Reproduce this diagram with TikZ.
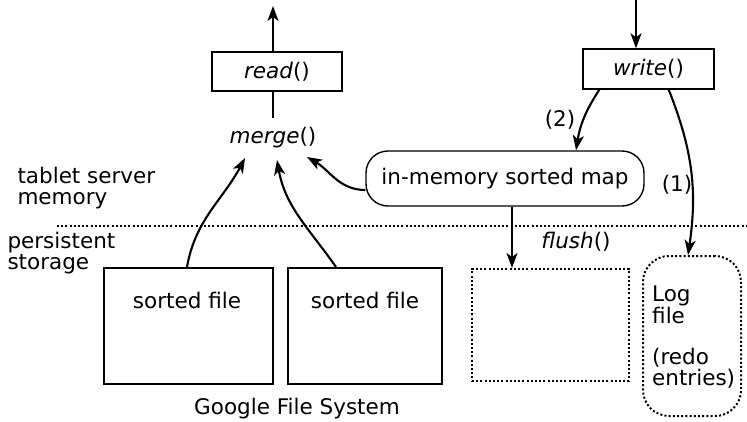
\documentclass[tikz,border=0pt]{standalone}
\usepackage{fontspec}
\setmainfont{DejaVu Sans}
\usetikzlibrary{arrows.meta}
\begin{document}
\begin{tikzpicture}[x=1pt,y=-1pt,
  every node/.style={font=\fontsize{21.5}{20.5}\selectfont},
  box/.style={draw,line width=1.4pt,inner sep=0pt},
  arr/.style={line width=2.1pt,-{Stealth[length=15pt,width=11pt,inset=4pt]}},
  plain/.style={line width=2.1pt},
  dots/.style={line width=2pt,dash pattern=on 2pt off 2.2pt}]
\useasboundingbox (0,0) rectangle (747,421);
% operation boxes
\node[box,minimum width=130pt,minimum height=39pt] (read) at (277,71.5) {\textit{read}()};
\node[box,minimum width=131pt,minimum height=40pt] (write) at (648.5,69) {\textit{write}()};
\node (merge) at (273,138) {\textit{merge}()};
\coordinate (out) at (273,6);
\coordinate (in) at (636,0);
% memtable
\node[draw,line width=1.4pt,rounded corners=22pt,minimum width=278pt,minimum height=55pt] (map) at (505,178.5) {in-memory sorted map};
% boundary between memory and storage
\coordinate (b1) at (57,226);
\coordinate (b2) at (747,226);
\draw[dots,line width=1.7pt] (b1) -- (b2);
\node[align=left,anchor=west] (mem) at (14,188) {tablet server\\memory};
\node[align=left,anchor=west] (per) at (4,253) {persistent\\storage};
% files in GFS
\node[draw,line width=2pt,minimum width=169pt,minimum height=116pt,anchor=north west] (f1) at (103,267) {};
\node (t1) at (187,300) {sorted file};
\node[draw,line width=2pt,minimum width=154pt,minimum height=116pt,anchor=north west] (f2) at (287,267) {};
\node (t2) at (365,300) {sorted file};
\node[draw,dots,minimum width=157pt,minimum height=112pt,anchor=north west] (new) at (471,268) {};
\node[draw,dots,rounded corners=26pt,minimum width=98pt,minimum height=160pt,anchor=north west] (log) at (642,255) {};
\node[align=left,anchor=north west,inner sep=0pt] (logt) at (652,286) {Log\\file\\[20.5pt](redo\\entries)};
\node (gfs) at (297,409) {Google File System};
% connectors
\draw[arr] (read.north -| out) -- (out);
\draw[plain] (read.south -| out) -- (273,118);
\draw[arr] (in) -- (write.north -| in);
\draw[arr] ([xshift=17pt]write.south west) to[bend right=12] (map.north -| 576,0);
\node (l2) at (560,120) {(2)};
\draw[arr] ([xshift=-46pt]write.south east) to[bend left=15] (log.north -| 688,0);
\node (l1) at (677,185) {(1)};
\draw[arr] (map.west |- 0,190) to[out=180,in=-30] (307,157);
\draw[arr] (f1.north -| 187,0) to[out=80,in=-118] (245,158);
\draw[arr] (f2.north -| 336,0) to[out=125,in=-80] (277,160);
\draw[arr] (map.south -| 512,0) -- (new.north -| 512,0);
\node (fl) at (576,242) {\textit{flush}()};
\end{tikzpicture}
\end{document}
